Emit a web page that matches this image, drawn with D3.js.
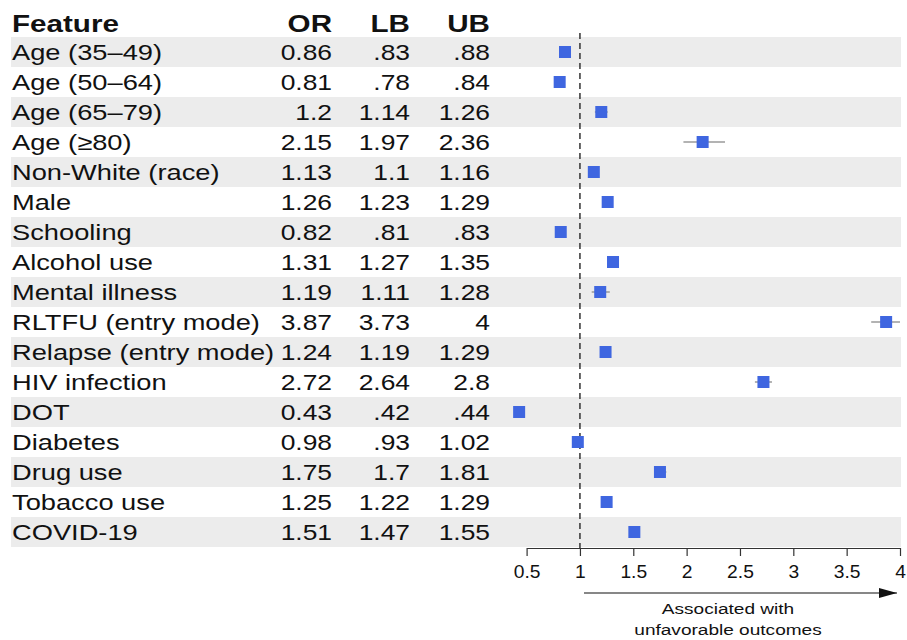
<!DOCTYPE html>
<html>
<head>
<meta charset="utf-8">
<script src="https://cdn.jsdelivr.net/npm/d3@7"></script>
<style>
  html, body { margin: 0; padding: 0; background: #fff; }
  svg { display: block; font-family: "Liberation Sans", Arial, Helvetica, sans-serif; }
</style>
</head>
<body>
<svg id="chart" width="907" height="640"></svg>
<script>
// Odds ratios with 95% confidence bounds, one row per feature
const features = [
  "Age (35\u201349)", "Age (50\u201364)", "Age (65\u201379)", "Age (\u226580)",
  "Non-White (race)", "Male", "Schooling", "Alcohol use", "Mental illness",
  "RLTFU (entry mode)", "Relapse (entry mode)", "HIV infection", "DOT",
  "Diabetes", "Drug use", "Tobacco use", "COVID-19"
];
const oddsRatio = [0.86, 0.81, 1.2, 2.15, 1.13, 1.26, 0.82, 1.31, 1.19, 3.87, 1.24, 2.72, 0.43, 0.98, 1.75, 1.25, 1.51];
const lowerBound = [0.83, 0.78, 1.14, 1.97, 1.1, 1.23, 0.81, 1.27, 1.11, 3.73, 1.19, 2.64, 0.42, 0.93, 1.7, 1.22, 1.47];
const upperBound = [0.88, 0.84, 1.26, 2.36, 1.16, 1.29, 0.83, 1.35, 1.28, 4, 1.29, 2.8, 0.44, 1.02, 1.81, 1.29, 1.55];
const xTicks = [0.5, 1, 1.5, 2, 2.5, 3, 3.5, 4];
const columnHeaders = ["Feature", "OR", "LB", "UB"];

const rows = features.map((f, i) => ({
  feature: f, or: oddsRatio[i], lb: lowerBound[i], ub: upperBound[i]
}));

const svg = d3.select("#chart");
const sx = 1.24; // horizontal text stretch

const y = d3.scaleBand().domain(d3.range(rows.length)).range([37, 547]).padding(0);
const x = d3.scaleLinear().domain([0.5, 4]).range([526.6, 900]);

const fmtOR = v => String(v);
const fmtBound = v => String(v).replace(/^0\./, ".");

// Alternating row shading
svg.append("g").selectAll("rect")
  .data(rows.filter((d, i) => i % 2 === 0))
  .join("rect")
  .attr("x", 11)
  .attr("y", d => y(rows.indexOf(d)))
  .attr("width", 890)
  .attr("height", y.bandwidth())
  .attr("fill", "#ececec");

function stretchedText(g, tx, ty, str, opts) {
  return g.append("text")
    .attr("transform", `translate(${tx},${ty}) scale(${opts.sx || sx},1)`)
    .attr("text-anchor", opts.anchor || "start")
    .attr("font-size", opts.size)
    .attr("font-weight", opts.weight || "normal")
    .attr("fill", "#111")
    .text(str);
}

// Table header
const header = svg.append("g");
const colX = [12, 332, 410, 490];
const colAnchor = ["start", "end", "end", "end"];
columnHeaders.forEach((h, i) => {
  stretchedText(header, colX[i], 32, h, { size: 23.5, weight: "bold", anchor: colAnchor[i], sx: 1.26 });
});

// Table body
const body = svg.append("g");
rows.forEach((d, i) => {
  const by = y(i) + y.bandwidth() / 2 + 8;
  stretchedText(body, colX[0], by, d.feature, { size: 22 });
  stretchedText(body, colX[1], by, fmtOR(d.or), { size: 22, anchor: "end", sx: 1.2 });
  stretchedText(body, colX[2], by, fmtBound(d.lb), { size: 22, anchor: "end", sx: 1.2 });
  stretchedText(body, colX[3], by, fmtBound(d.ub), { size: 22, anchor: "end", sx: 1.2 });
});

// Reference line at OR = 1
svg.append("line")
  .attr("x1", x(1)).attr("x2", x(1))
  .attr("y1", 33).attr("y2", 548)
  .attr("stroke", "#333")
  .attr("stroke-width", 1.5)
  .attr("stroke-dasharray", "6,4");

// Confidence intervals
svg.append("g").selectAll("line")
  .data(rows)
  .join("line")
  .attr("x1", d => x(d.lb))
  .attr("x2", d => x(d.ub))
  .attr("y1", (d, i) => y(i) + y.bandwidth() / 2)
  .attr("y2", (d, i) => y(i) + y.bandwidth() / 2)
  .attr("stroke", "#9a9a9a")
  .attr("stroke-width", 1.5);

// Point estimates
const sq = 12;
svg.append("g").selectAll("rect")
  .data(rows)
  .join("rect")
  .attr("x", d => x(d.or) - sq / 2)
  .attr("y", (d, i) => y(i) + y.bandwidth() / 2 - sq / 2)
  .attr("width", sq)
  .attr("height", sq)
  .attr("fill", "#3f66e0");

// X axis
const axisG = svg.append("g")
  .attr("transform", "translate(0,548)")
  .call(d3.axisBottom(x).tickValues(xTicks).tickSize(8).tickSizeOuter(0).tickFormat(d => String(d)));
axisG.select(".domain").attr("stroke", "#333").attr("stroke-width", 1.2);
axisG.selectAll(".tick line").attr("stroke", "#333").attr("stroke-width", 1.2);
axisG.selectAll(".tick text").remove();
axisG.selectAll(".tick").each(function(d) {
  stretchedText(d3.select(this), 0, 30, String(d), { size: 17.5, anchor: "middle", sx: 1.1 });
});

// Direction arrow and caption
const defs = svg.append("defs");
defs.append("marker")
  .attr("id", "arrowhead")
  .attr("viewBox", "0 0 18 10")
  .attr("refX", 18).attr("refY", 5)
  .attr("markerWidth", 18).attr("markerHeight", 10)
  .attr("markerUnits", "userSpaceOnUse")
  .attr("orient", "auto")
  .append("path")
  .attr("d", "M0,0 L18,5 L0,10 Z")
  .attr("fill", "#111");

svg.append("line")
  .attr("x1", x(1) + 4).attr("x2", x(4) - 3)
  .attr("y1", 593).attr("y2", 593)
  .attr("stroke", "#111")
  .attr("stroke-width", 1.2)
  .attr("marker-end", "url(#arrowhead)");

const cap = svg.append("g");
stretchedText(cap, 728, 614, "Associated with", { size: 15.5, anchor: "middle", sx: 1.23 });
stretchedText(cap, 728, 635, "unfavorable outcomes", { size: 15.5, anchor: "middle", sx: 1.23 });
</script>
</body>
</html>
